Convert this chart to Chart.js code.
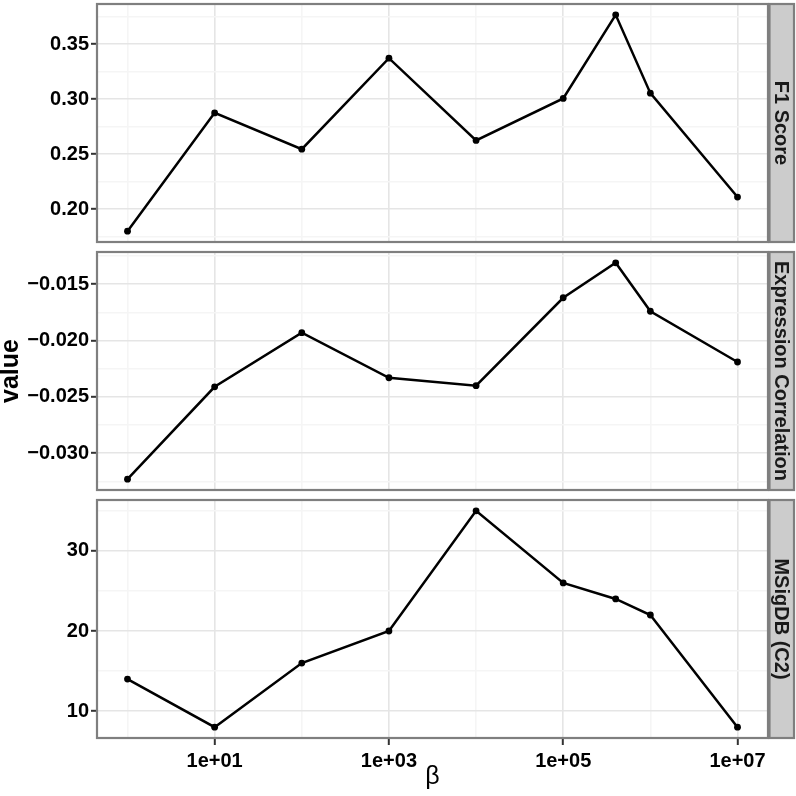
<!DOCTYPE html>
<html><head><meta charset="utf-8">
<script src="https://cdn.jsdelivr.net/npm/chart.js@4/dist/chart.umd.min.js"></script>
<style>
html,body{margin:0;padding:0;background:#fff;width:796px;height:796px;overflow:hidden}
canvas{position:absolute;left:0}
</style></head><body>
<canvas id="c1"></canvas>
<canvas id="c2"></canvas>
<canvas id="c3"></canvas>
<script>
// ---- data ----
const betas = [1, 10, 100, 1000, 10000, 100000, 400000, 1000000, 10000000];
const f1Score = [0.180, 0.2875, 0.2545, 0.3372, 0.2625, 0.3006, 0.3766, 0.3054, 0.2110];
const exprCorr = [-0.0323, -0.0241, -0.0193, -0.0233, -0.0240, -0.0162, -0.0131, -0.0174, -0.0219];
const msigdb = [14, 8, 16, 20, 35, 26, 24, 22, 8];
const panelLabels = ['F1 Score', 'Expression Correlation', 'MSigDB (C2)'];
const xMajorTicks = [10, 1000, 100000, 10000000];
const xMinorTicks = [1, 100, 10000, 1000000];
const xTickLabels = ['1e+01', '1e+03', '1e+05', '1e+07'];
const f1Major = [0.20, 0.25, 0.30, 0.35];
const f1Minor = [0.175, 0.225, 0.275, 0.325, 0.375];
const corrMajor = [-0.030, -0.025, -0.020, -0.015];
const corrMinor = [-0.0325, -0.0275, -0.0225, -0.0175, -0.0125];
const msigMajor = [10, 20, 30];
const msigMinor = [15, 25, 35];
const xTitle = 'β';
const yTitle = 'value';

const FONT = "'Liberation Sans', Arial, Helvetica, sans-serif";
const MAJOR_GRID = '#e5e5e5', MINOR_GRID = '#f5f5f5', BORDER = '#7f7f7f';

function expandRange(vals) {
  const mn = Math.min(...vals), mx = Math.max(...vals), r = mx - mn;
  return [mn - 0.05 * r, mx + 0.05 * r];
}
const xLogMin = Math.log10(betas[0]), xLogMax = Math.log10(betas[betas.length - 1]);
const xPad = 0.05 * (xLogMax - xLogMin);

const panelPlugin = {
  id: 'panel',
  afterDraw(chart) {
    const {ctx, chartArea: a} = chart;
    const lbl = chart.options.plugins.panel.label;
    ctx.save();
    ctx.lineWidth = 2.2;
    ctx.strokeStyle = BORDER;
    ctx.strokeRect(a.left, a.top, a.right - a.left, a.bottom - a.top);
    // strip
    const sx = a.right + 1.5, sw = 794 - sx;
    ctx.fillStyle = '#cccccc';
    ctx.fillRect(sx, a.top, sw, a.bottom - a.top);
    ctx.strokeRect(sx, a.top, sw, a.bottom - a.top);
    ctx.translate(sx + sw / 2, (a.top + a.bottom) / 2);
    ctx.rotate(Math.PI / 2);
    ctx.fillStyle = '#1a1a1a';
    ctx.font = 'bold 20px ' + FONT;
    ctx.textAlign = 'center';
    ctx.textBaseline = 'middle';
    ctx.fillText(lbl, 0, 1);
    ctx.restore();
  }
};

function makeChart(id, top, height, values, major, minor, fmt, label, isBottom, showYTitle) {
  const cv = document.getElementById(id);
  cv.style.top = top + 'px';
  cv.style.width = '796px'; cv.style.height = height + 'px';
  cv.width = 796; cv.height = height;
  const [ymin, ymax] = expandRange(values);
  const yTicks = major.concat(minor).sort((a, b) => a - b);
  const xTicks = xMajorTicks.concat(xMinorTicks).sort((a, b) => a - b);
  const isMajorY = v => major.some(m => Math.abs(m - v) < 1e-9);
  const isMajorX = v => xMajorTicks.some(m => Math.abs(Math.log10(m) - Math.log10(v)) < 1e-6);
  return new Chart(cv, {
    type: 'line',
    data: {
      datasets: [{
        data: betas.map((b, i) => ({x: b, y: values[i]})),
        borderColor: '#000', borderWidth: 2.5,
        pointRadius: 3.4, pointBackgroundColor: '#000', pointBorderWidth: 0,
        tension: 0, clip: false
      }]
    },
    plugins: [panelPlugin],
    options: {
      responsive: false, animation: false, devicePixelRatio: 1,
      layout: {padding: {top: 1, bottom: isBottom ? 0 : 6, left: 0, right: 28}},
      plugins: {legend: {display: false}, tooltip: {enabled: false}, panel: {label}},
      scales: {
        x: {
          type: 'logarithmic',
          min: Math.pow(10, xLogMin - xPad), max: Math.pow(10, xLogMax + xPad),
          afterBuildTicks: s => { s.ticks = xTicks.map(v => ({value: v})); },
          afterFit: s => { s.height = isBottom ? 58 : 0; s.paddingLeft = 0; s.paddingRight = 0; s.paddingTop = 0; s.paddingBottom = 0; },
          border: {display: false},
          grid: {
            color: c => (c.tick && isMajorX(c.tick.value)) ? MAJOR_GRID : MINOR_GRID,
            lineWidth: 1.6,
            drawTicks: isBottom, tickLength: 7, tickWidth: 2,
            tickColor: c => (c.tick && isMajorX(c.tick.value)) ? '#333333' : 'rgba(0,0,0,0)'
          },
          ticks: {
            display: isBottom, autoSkip: false, maxRotation: 0, padding: 4,
            color: '#000', font: {family: FONT, size: 20, weight: 'bold'},
            callback: v => { const i = xMajorTicks.findIndex(m => Math.abs(Math.log10(m) - Math.log10(v)) < 1e-6); return i >= 0 ? xTickLabels[i] : ''; }
          },
          title: {display: isBottom, text: xTitle, color: '#000', font: {family: FONT, size: 25, lineHeight: '30px'}, padding: {top: 0, bottom: 4}}
        },
        y: {
          type: 'linear', min: ymin, max: ymax,
          afterBuildTicks: s => { s.ticks = yTicks.filter(v => v >= ymin && v <= ymax).map(v => ({value: v})); },
          afterFit: s => { s.width = 97; s.paddingTop = 0; s.paddingBottom = 0; s.paddingLeft = 0; s.paddingRight = 0; },
          border: {display: false},
          grid: {
            color: c => (c.tick && isMajorY(c.tick.value)) ? MAJOR_GRID : MINOR_GRID,
            lineWidth: 1.6,
            drawTicks: true, tickLength: 6, tickWidth: 2,
            tickColor: c => (c.tick && isMajorY(c.tick.value)) ? '#333333' : 'rgba(0,0,0,0)'
          },
          ticks: {
            autoSkip: false, padding: 2, color: '#000', font: {family: FONT, size: 20, weight: 'bold'},
            callback: v => isMajorY(v) ? fmt(v) : ''
          },
          title: {display: showYTitle, text: yTitle, color: '#000', font: {family: FONT, size: 25, weight: 'bold', lineHeight: '22px'}, padding: 0}
        }
      }
    }
  });
}

const minus = s => s.replace('-', '\u2212');
makeChart('c1', 0, 248, f1Score, f1Major, f1Minor, v => minus(v.toFixed(2)), panelLabels[0], false, false);
makeChart('c2', 248, 248, exprCorr, corrMajor, corrMinor, v => minus(v.toFixed(3)), panelLabels[1], false, true);
makeChart('c3', 496, 300, msigdb, msigMajor, msigMinor, v => minus(v.toFixed(0)), panelLabels[2], true, false);
</script>
</body></html>
